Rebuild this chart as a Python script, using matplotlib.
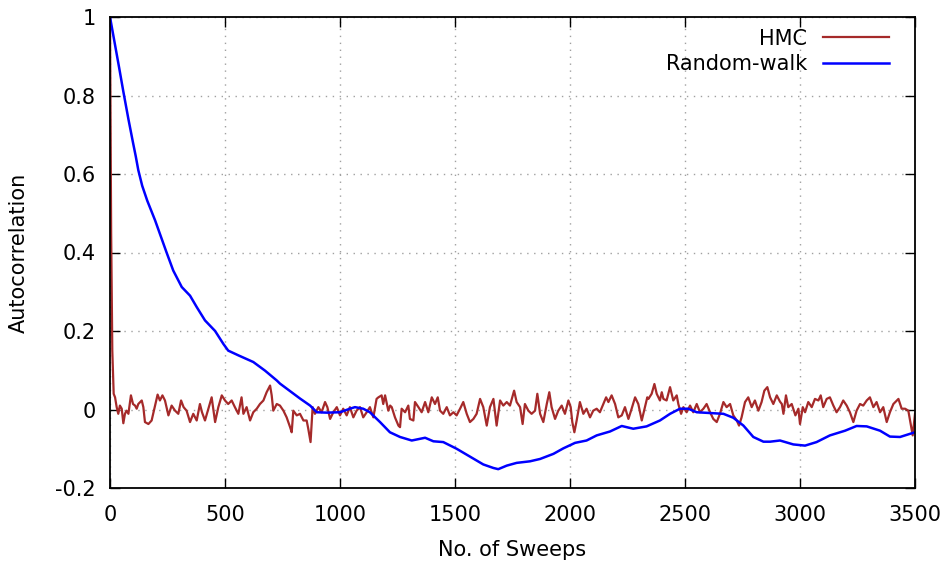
import numpy as np
import matplotlib
matplotlib.use("Agg")
import matplotlib.pyplot as plt
from matplotlib.ticker import FuncFormatter

plt.rcParams['font.family'] = ['DejaVu Sans']
plt.rcParams['axes.unicode_minus'] = False

# HMC autocorrelation
hmc_sweeps = [0, 5, 10, 16, 22, 29, 36, 43, 51, 58, 65, 72, 80, 91, 100, 109, 116, 123, 138, 145,
              152, 167, 181, 196, 207, 217, 228, 239, 254, 268, 283, 297, 309, 320, 333, 348, 362, 377, 391, 400,
              413, 428, 442, 457, 471, 486, 500, 514, 529, 543, 558, 572, 580, 594, 609, 623, 638, 652, 667, 681,
              696, 703, 710, 725, 739, 754, 768, 783, 790, 797, 812, 826, 841, 855, 862, 872, 881, 891, 906, 920,
              935, 945, 957, 971, 986, 1000, 1014, 1029, 1043, 1058, 1072, 1087, 1101, 1116, 1130, 1145, 1159, 1167, 1181, 1188,
              1196, 1210, 1218, 1225, 1239, 1254, 1261, 1268, 1283, 1297, 1304, 1319, 1326, 1341, 1355, 1370, 1384, 1399, 1413, 1425,
              1435, 1449, 1464, 1478, 1493, 1507, 1522, 1536, 1551, 1565, 1580, 1594, 1609, 1623, 1638, 1652, 1667, 1681, 1696, 1710,
              1725, 1739, 1757, 1768, 1783, 1794, 1804, 1819, 1833, 1848, 1858, 1870, 1884, 1899, 1910, 1920, 1935, 1949, 1964, 1978,
              1993, 2003, 2010, 2019, 2029, 2043, 2058, 2072, 2087, 2101, 2116, 2130, 2145, 2157, 2167, 2181, 2196, 2210, 2225, 2239,
              2254, 2268, 2283, 2297, 2312, 2326, 2336, 2341, 2355, 2367, 2377, 2391, 2399, 2406, 2420, 2435, 2449, 2464, 2471, 2483,
              2493, 2507, 2522, 2536, 2551, 2565, 2580, 2594, 2609, 2623, 2638, 2652, 2667, 2681, 2696, 2710, 2725, 2735, 2746, 2761,
              2775, 2790, 2804, 2819, 2833, 2845, 2858, 2870, 2884, 2899, 2913, 2921, 2928, 2939, 2949, 2964, 2980, 2993, 3000, 3012,
              3022, 3036, 3051, 3065, 3080, 3090, 3101, 3116, 3130, 3145, 3159, 3174, 3188, 3203, 3217, 3232, 3246, 3261, 3275, 3290,
              3304, 3319, 3333, 3348, 3362, 3377, 3391, 3406, 3428, 3442, 3457, 3471, 3481, 3490, 3500]
hmc_acf = [1.0, 0.45, 0.15, 0.04, 0.031, 0.006, -0.011, 0.010, 0.002, -0.035, -0.011, -0.003, -0.011, 0.036, 0.014, 0.010, 0.002, 0.014, 0.023, 0.006,
           -0.032, -0.037, -0.028, 0.010, 0.038, 0.023, 0.036, 0.023, -0.015, 0.010, -0.003, -0.011, 0.023, 0.006, -0.003, -0.032, -0.011, -0.028, 0.014, -0.007,
           -0.028, 0.002, 0.031, -0.032, 0.006, 0.036, 0.023, 0.014, 0.023, 0.006, -0.011, 0.031, -0.011, 0.006, -0.028, -0.007, 0.002, 0.014, 0.023, 0.044,
           0.061, 0.036, -0.003, 0.014, 0.010, -0.003, -0.020, -0.045, -0.058, -0.003, -0.015, -0.011, -0.028, -0.028, -0.049, -0.083, 0.006, -0.011, 0.006, -0.007,
           0.019, 0.006, -0.024, -0.007, 0.006, -0.015, 0.002, -0.015, 0.006, -0.020, -0.003, 0.006, -0.020, -0.007, 0.006, -0.020, 0.027, 0.031, 0.036, 0.014,
           0.036, -0.003, 0.010, 0.006, -0.020, -0.041, -0.045, 0.002, -0.007, 0.010, -0.024, -0.028, 0.019, 0.006, -0.007, 0.019, -0.007, 0.031, 0.014, 0.031,
           -0.003, -0.011, 0.006, -0.015, -0.007, -0.015, 0.002, 0.019, -0.011, -0.032, -0.024, -0.011, 0.027, 0.006, -0.041, 0.006, 0.027, -0.041, 0.023, 0.010,
           0.019, 0.010, 0.048, 0.019, 0.006, -0.037, 0.014, -0.003, -0.011, -0.003, 0.040, -0.011, -0.032, 0.014, 0.044, 0.006, -0.024, -0.003, 0.010, -0.011,
           0.023, 0.006, -0.032, -0.058, -0.028, 0.019, -0.011, 0.002, -0.020, -0.003, 0.002, -0.007, 0.014, 0.031, 0.019, 0.036, 0.014, -0.020, -0.015, 0.006,
           -0.024, 0.002, 0.031, 0.014, -0.028, 0.006, 0.031, 0.027, 0.040, 0.065, 0.040, 0.023, 0.044, 0.027, 0.023, 0.057, 0.023, 0.036, 0.014, -0.011,
           0.006, -0.007, 0.010, -0.007, 0.014, -0.007, 0.002, 0.014, -0.007, -0.024, -0.032, -0.011, 0.019, 0.006, 0.014, -0.015, -0.028, -0.041, -0.020, 0.019,
           0.031, 0.006, 0.023, -0.003, 0.019, 0.048, 0.057, 0.031, 0.014, 0.036, 0.020, 0.014, -0.011, 0.036, 0.006, 0.014, -0.015, 0.002, -0.037, 0.006,
           -0.007, 0.019, 0.006, 0.027, 0.023, 0.036, 0.006, 0.027, 0.031, 0.010, -0.007, 0.006, 0.023, 0.010, -0.007, -0.032, -0.003, 0.014, 0.010, 0.023,
           0.031, 0.006, 0.019, -0.007, 0.006, -0.032, -0.007, 0.014, 0.027, 0.002, 0.002, -0.003, -0.037, -0.066, -0.011]

# Random-walk autocorrelation
rw_sweeps = [0, 20, 40, 58, 80, 100, 112, 123, 140, 162, 196, 246, 275, 312, 348, 377, 413, 457, 493, 514, 558,
             623, 674, 725, 739, 826, 870, 899, 942, 1000, 1043, 1065, 1101, 1130, 1174, 1217, 1261, 1312, 1370, 1406, 1449,
             1507, 1565, 1623, 1667, 1688, 1725, 1768, 1826, 1870, 1928, 1971, 2022, 2072, 2116, 2174, 2225, 2275, 2333, 2391, 2435,
             2478, 2514, 2551, 2609, 2667, 2710, 2754, 2797, 2841, 2870, 2913, 2971, 3022, 3072, 3130, 3196, 3246, 3290, 3348, 3391,
             3435, 3478, 3500]
rw_acf = [1.0, 0.935, 0.87, 0.81, 0.74, 0.68, 0.645, 0.61, 0.57, 0.532, 0.482, 0.40, 0.354, 0.312, 0.29, 0.261, 0.227, 0.20, 0.167, 0.150, 0.138,
          0.121, 0.099, 0.074, 0.066, 0.028, 0.010, -0.007, -0.008, -0.007, 0.002, 0.006, 0.002, -0.007, -0.032, -0.058, -0.070, -0.079, -0.072, -0.081, -0.083,
          -0.100, -0.120, -0.140, -0.149, -0.152, -0.143, -0.136, -0.132, -0.126, -0.113, -0.099, -0.085, -0.079, -0.066, -0.056, -0.042, -0.049, -0.043, -0.028, -0.011,
          0.002, 0.002, -0.007, -0.009, -0.011, -0.021, -0.041, -0.070, -0.082, -0.082, -0.079, -0.089, -0.092, -0.083, -0.066, -0.054, -0.042, -0.043, -0.054, -0.069,
          -0.070, -0.062, -0.058]

x_ticks = [0, 500, 1000, 1500, 2000, 2500, 3000, 3500]
y_ticks = [-0.2, 0, 0.2, 0.4, 0.6, 0.8, 1]

fig = plt.figure(figsize=(9.49, 5.65), dpi=100)
ax = fig.add_axes([110/949, 1-488/565, 805/949, 471/565])

ax.plot(hmc_sweeps, hmc_acf, color='#a52a2a', lw=1.6, label='HMC')
ax.plot(rw_sweeps, rw_acf, color='#0000ff', lw=1.8, label='Random-walk')

ax.set_xlim(0, 3500)
ax.set_ylim(-0.2, 1)
ax.set_xticks(x_ticks)
ax.set_yticks(y_ticks)
ax.yaxis.set_major_formatter(FuncFormatter(lambda v, p: '%g' % round(v, 2)))
ax.tick_params(direction='in', length=7, width=1, labelsize=15, top=True, right=True)
ax.tick_params(axis='x', pad=12)
ax.tick_params(axis='y', pad=10)
ax.grid(True, color='#a0a0a0', linestyle=(0, (1, 4)), linewidth=1)
for s in ax.spines.values():
    s.set_linewidth(1.3)

ax.set_xlabel('No. of Sweeps', fontsize=15, labelpad=11)
ax.set_ylabel('Autocorrelation', fontsize=15, labelpad=19)

ax.legend(loc='upper right', bbox_to_anchor=(0.968, 0.975), frameon=False, markerfirst=False,
          fontsize=15, handlelength=3.2, handletextpad=0.75, labelspacing=0.25, borderpad=0, borderaxespad=0)

plt.savefig('out.png', dpi=100)
